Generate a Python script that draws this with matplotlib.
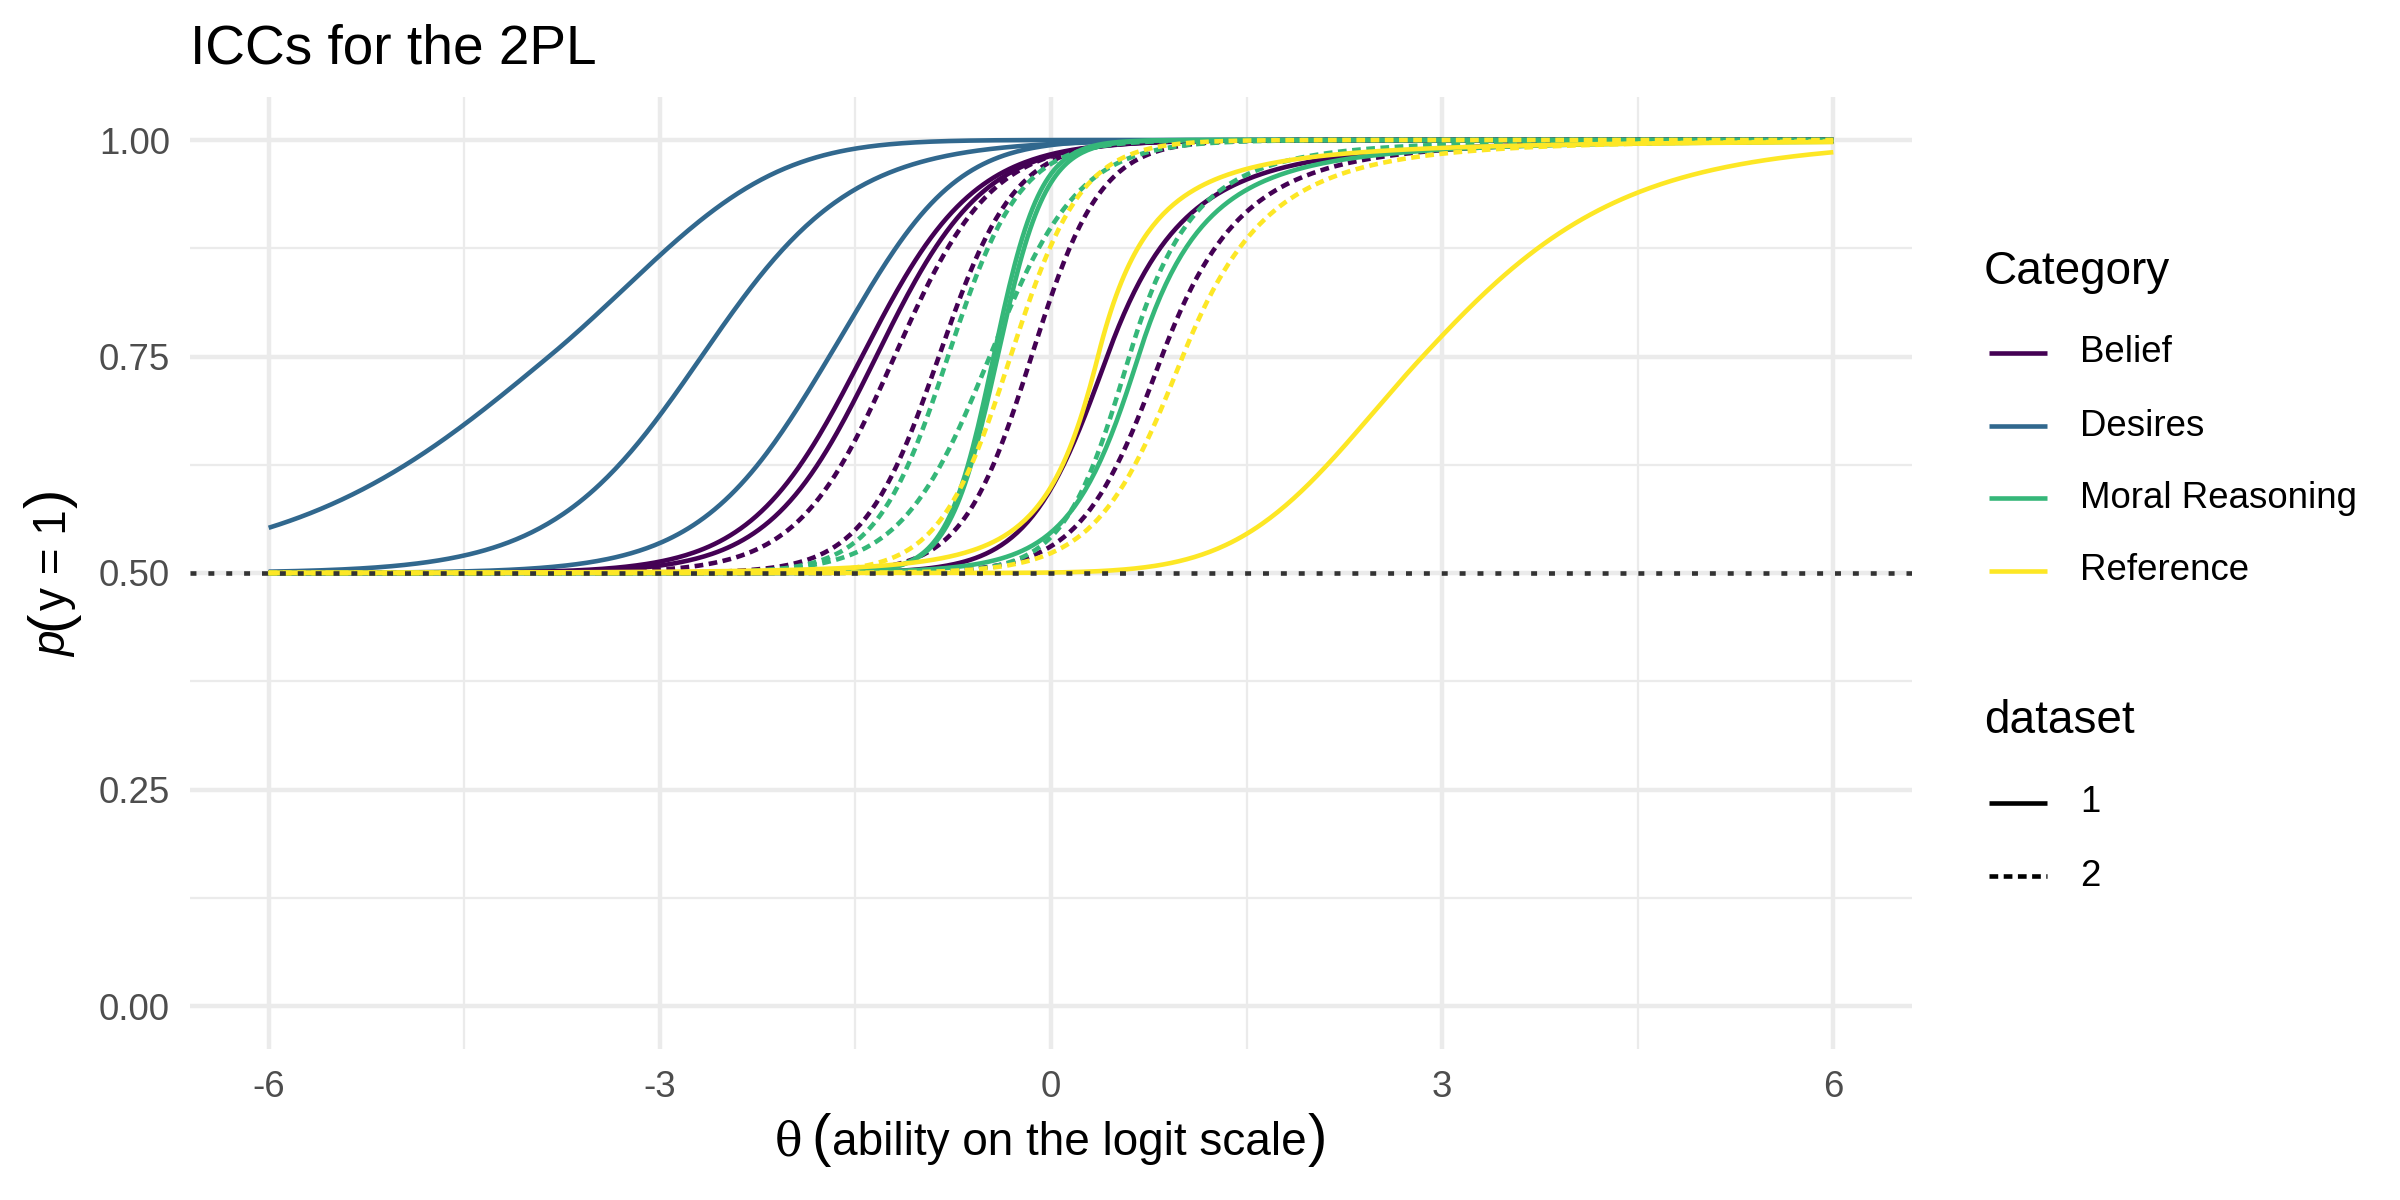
import numpy as np
import matplotlib
matplotlib.use("Agg")
import matplotlib.pyplot as plt
from matplotlib.lines import Line2D

# ---------------- data ----------------
categories = ["Belief", "Desires", "Moral Reasoning", "Reference"]
category_colors = ["#440154", "#31688E", "#35B779", "#FDE725"]
datasets = ["1", "2"]

# one entry per item characteristic curve
item_category = ["Desires", "Desires", "Desires",
                 "Belief", "Belief", "Belief",
                 "Belief", "Belief", "Belief", "Belief",
                 "Moral Reasoning", "Moral Reasoning", "Moral Reasoning",
                 "Moral Reasoning", "Moral Reasoning", "Moral Reasoning",
                 "Reference", "Reference",
                 "Reference", "Reference"]
item_dataset = ["1", "1", "1",
                "1", "1", "1",
                "2", "2", "2", "2",
                "1", "1", "1",
                "2", "2", "2",
                "1", "1",
                "2", "2"]
item_discrimination = [1.00, 1.74, 2.00,
                       2.33, 2.44, 3.30,
                       2.70, 3.43, 3.76, 3.20,
                       5.60, 5.40, 3.80,
                       3.60, 2.93, 4.00,
                       4.80, 1.30,
                       3.66, 3.00]
item_difficulty = [-3.85, -2.68, -1.70,
                   -1.45, -1.34, 0.43,
                   -1.20, -0.86, -0.15, 0.85,
                   -0.44, -0.41, 0.67,
                   -0.79, -0.47, 0.60,
                   0.36, 2.85,
                   -0.31, 1.01]
# tail shape below / above the item difficulty (0 = plain logistic)
item_lower_tail = [0.0, 0.0, 0.0,
                   0.0, 0.0, 0.0,
                   0.0, 0.0, 0.0, 0.0,
                   0.0, 0.0, 0.1,
                   0.0, 0.0, 0.0,
                   0.3, -0.3,
                   0.0, 0.0]
item_upper_tail = [-0.4, 0.0, -0.15,
                   0.0, 0.0, 0.35,
                   0.0, 0.0, 0.0, 0.3,
                   0.0, 0.0, 0.4,
                   0.0, 0.0, 0.3,
                   0.5, 0.08,
                   0.0, 0.3]
lower_asymptote = 0.5
theta_range = (-6.0, 6.0)

x_ticks = [-6, -3, 0, 3, 6]
x_ticklabels = ["-6", "-3", "0", "3", "6"]
y_ticks = [0.0, 0.25, 0.5, 0.75, 1.0]
y_ticklabels = ["0.00", "0.25", "0.50", "0.75", "1.00"]


def tail(x, k):
    if k > 0:
        return np.log1p(k * x) / k
    if k < 0:
        return np.expm1(np.minimum(-k * x, 50.0)) / (-k)
    return x


def icc(theta, a, b, k_lo, k_hi):
    x = a * (theta - b)
    z = np.where(x >= 0, tail(np.abs(x), k_hi), -tail(np.abs(x), k_lo))
    return lower_asymptote + (1 - lower_asymptote) / (1 + np.exp(-z))


# ---------------- style ----------------
plt.rcParams["font.family"] = ["Liberation Sans", "DejaVu Sans"]

W, H = 2400, 1200
fig = plt.figure(figsize=(8, 4), dpi=300)


def fx(px):
    return px / W


def fy(py):
    return 1 - py / H


left, right, top, bottom = 190.4, 1911.6, 96.7, 1049.3
ax = fig.add_axes([fx(left), fy(bottom), fx(right - left), (bottom - top) / H])
ax.set_xlim(-6.6, 6.6)
ax.set_ylim(-0.05, 1.05)
for s in ax.spines.values():
    s.set_visible(False)

grid_col = "#EBEBEB"
ax.set_xticks(x_ticks)
ax.set_xticklabels(x_ticklabels)
ax.set_yticks(y_ticks)
ax.set_yticklabels(y_ticklabels)
ax.set_xticks([-4.5, -1.5, 1.5, 4.5], minor=True)
ax.set_yticks([0.125, 0.375, 0.625, 0.875], minor=True)
ax.grid(True, which="major", color=grid_col, lw=1.07)
ax.grid(True, which="minor", color=grid_col, lw=0.53)
ax.set_axisbelow(True)
ax.tick_params(which="both", length=0)
ax.tick_params(which="major", labelsize=8.8, labelcolor="#4D4D4D", pad=4.95)

lw = 1.1
dash_pat = (1.9, 1.2)
theta = np.linspace(theta_range[0], theta_range[1], 601)
color_of = dict(zip(categories, category_colors))
for cat, ds, a, b, klo, khi in zip(item_category, item_dataset, item_discrimination,
                                  item_difficulty, item_lower_tail, item_upper_tail):
    p = icc(theta, a, b, klo, khi)
    line, = ax.plot(theta, p, color=color_of[cat], lw=lw, solid_capstyle="butt",
                    dash_capstyle="butt", solid_joinstyle="round")
    if ds == "2":
        line.set_dashes(dash_pat)

ax.axhline(lower_asymptote, color="#333333", lw=lw, dashes=(1.3, 2.6),
           dash_capstyle="butt", zorder=5)

# ---------------- texts ----------------
fig.text(fx(190), fy(63), "ICCs for the 2PL", fontsize=13.2, ha="left", va="baseline")

renderer = fig.canvas.get_renderer()


def compose(pieces, center, baseline, vertical=False):
    """pieces: list of (string, kwargs, gap_px_after). Positions in image pixels."""
    texts, lens = [], []
    for s, kw, g in pieces:
        t = fig.text(0, 0, s, rotation=90 if vertical else 0, rotation_mode="anchor",
                     ha="left", va="baseline", **kw)
        ext = t.get_window_extent(renderer)
        texts.append(t)
        lens.append((ext.height if vertical else ext.width) + g)
    total = sum(lens)
    if vertical:
        pos = (H - center) - total / 2.0   # display coords, upward
        for t, L in zip(texts, lens):
            t.set_position((fx(baseline), pos / H))
            pos += L
    else:
        pos = center - total / 2.0
        for t, L in zip(texts, lens):
            t.set_position((fx(pos), fy(baseline)))
            pos += L


big = 14
compose([("θ", dict(fontsize=11, family=["DejaVu Serif"]), 9),
         ("(", dict(fontsize=big), 1),
         ("ability on the logit scale", dict(fontsize=11), 1),
         (")", dict(fontsize=big), 0)],
        center=1051, baseline=1155)

compose([("p", dict(fontsize=11, style="italic"), 1),
         ("(", dict(fontsize=big), 1),
         ("y = 1", dict(fontsize=11), 1),
         (")", dict(fontsize=big), 0)],
        center=573, baseline=66, vertical=True)

# ---------------- legend (manual, figure coordinates) ----------------
key_x0, key_x1, lab_x = 1989, 2047, 2080
fig.text(fx(1984), fy(272), "Category", fontsize=11, ha="left", va="center")
for cat, col, yy in zip(categories, category_colors, [353, 426, 498, 571]):
    fig.add_artist(Line2D([fx(key_x0), fx(key_x1)], [fy(yy), fy(yy)], color=col, lw=lw,
                          solid_capstyle="butt"))
    fig.text(fx(lab_x), fy(yy), cat, fontsize=8.8, ha="left", va="center")

fig.text(fx(1984), fy(721), "dataset", fontsize=11, ha="left", va="center")
for ds, yy in zip(datasets, [803, 876]):
    ln = Line2D([fx(key_x0), fx(key_x1)], [fy(yy), fy(yy)], color="black", lw=lw,
                solid_capstyle="butt", dash_capstyle="butt")
    if ds == "2":
        ln.set_dashes(dash_pat)
    fig.add_artist(ln)
    fig.text(fx(lab_x), fy(yy), ds, fontsize=8.8, ha="left", va="center")

fig.savefig("out.png", dpi=300, facecolor="white")
